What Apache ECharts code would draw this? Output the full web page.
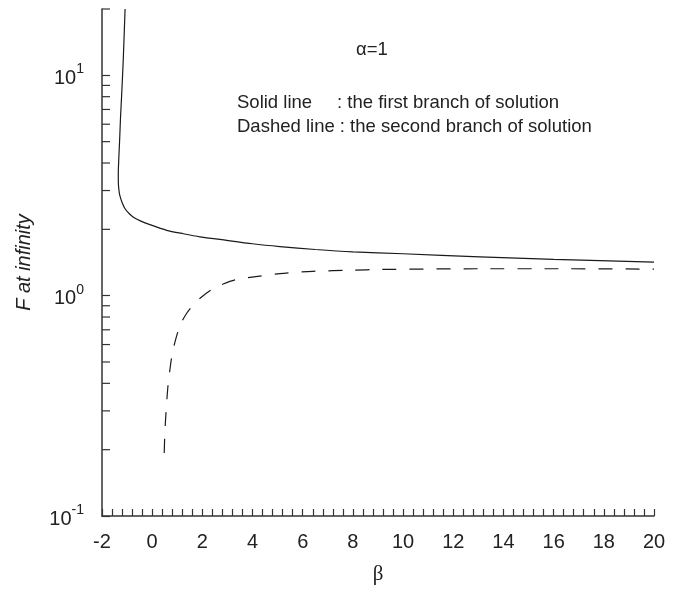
<!DOCTYPE html>
<html>
<head>
<meta charset="utf-8">
<script src="https://cdn.jsdelivr.net/npm/echarts@6/dist/echarts.min.js"></script>
<style>html,body{margin:0;padding:0;background:#fff;}#main{width:680px;height:590px;}</style>
</head>
<body>
<div id="main"></div>
<script>
// x axis: beta ; y axis: F at infinity (log)
const xMin = -2, xMax = 20, xStep = 2;
const yMin = 0.1, yMax = 20;
const yMinorTicks = [0.2,0.3,0.4,0.5,0.6,0.7,0.8,0.9,2,3,4,5,6,7,8,9,20];

// first branch (solid line)
const firstBeta = [-1.08,-1.11,-1.15,-1.18,-1.22,-1.26,-1.30,-1.33,-1.35,-1.35,-1.33,-1.29,-1.20,-1.08,-0.92,-0.75,-0.45,-0.09,0.58,1.24,1.9,2.7,4,5.09,6.5,8,10,13.06,16,20];
const firstF    = [20,16,12,10,8,6.5,5,4.2,3.6,3.3,3.05,2.85,2.65,2.48,2.36,2.27,2.18,2.10,1.98,1.91,1.85,1.80,1.72,1.67,1.62,1.58,1.55,1.50,1.46,1.42];

// second branch (dashed line)
const secondBeta = [0.48,0.50,0.53,0.58,0.63,0.73,0.82,0.91,1.11,1.37,1.65,1.97,2.4,2.83,3.3,3.9,5.09,6.41,8,9.08,13.06,16,20];
const secondF    = [0.193,0.23,0.27,0.33,0.39,0.484,0.56,0.617,0.734,0.83,0.91,0.986,1.07,1.13,1.18,1.21,1.26,1.29,1.305,1.315,1.325,1.325,1.32];

const zip = (a, b) => a.map((v, i) => [v, b[i]]);
const axisColor = '#333';
const lineColor = '#1a1a1a';

const chart = echarts.init(document.getElementById('main'), null, {renderer: 'canvas'});
chart.setOption({
  animation: false,
  backgroundColor: '#fff',
  grid: {left: 102, right: 26, top: 9, bottom: 73, containLabel: false},
  xAxis: {
    type: 'value', min: xMin, max: xMax, interval: xStep,
    name: 'β', nameLocation: 'middle', nameGap: 48,
    nameTextStyle: {fontFamily: 'Liberation Serif', fontSize: 21, color: '#222'},
    axisLine: {show: true, onZero: false, lineStyle: {color: axisColor, width: 1.5}},
    axisTick: {show: true, inside: true, length: 7, lineStyle: {color: axisColor, width: 1.2}},
    minorTick: {show: true, splitNumber: 5, length: 7, lineStyle: {color: axisColor, width: 1.2}},
    axisLabel: {fontFamily: 'Liberation Sans', fontSize: 20, color: '#222', margin: 16},
    splitLine: {show: false}
  },
  yAxis: {
    type: 'log', logBase: 10, min: yMin, max: yMax, splitNumber: 3,
    name: 'F at infinity', nameLocation: 'middle', nameGap: 68,
    nameTextStyle: {fontFamily: 'Liberation Sans', fontStyle: 'italic', fontSize: 20, color: '#222'},
    axisLine: {show: true, onZero: false, lineStyle: {color: axisColor, width: 1.5}},
    axisTick: {show: true, inside: true, length: 8, lineStyle: {color: axisColor, width: 1.2}},
    axisLabel: {
      showMaxLabel: false, margin: 18,
      formatter: function (v) {
        const e = Math.round(Math.log10(v));
        if (Math.abs(v - Math.pow(10, e)) > 1e-9 * Math.max(1, v)) return '';
        return '{b|10}{s|' + e + '}';
      },
      rich: {
        b: {fontFamily: 'Liberation Sans', fontSize: 20, color: '#222', verticalAlign: 'bottom', lineHeight: 26, padding: [8, 0, 0, 0]},
        s: {fontFamily: 'Liberation Sans', fontSize: 14, color: '#222', verticalAlign: 'top', lineHeight: 26}
      }
    },
    splitLine: {show: false}
  },
  series: [
    {
      type: 'line', data: zip(firstBeta, firstF), showSymbol: false, smooth: 0.25,
      lineStyle: {color: lineColor, width: 1.2}, z: 3
    },
    {
      type: 'line', data: zip(secondBeta, secondF), showSymbol: false, smooth: 0.25,
      lineStyle: {color: lineColor, width: 1.2, type: [14, 13]}, z: 3
    },
    {
      type: 'custom', clip: false, silent: true, z: 4,
      data: yMinorTicks.map(v => [xMin, v]),
      encode: {x: 0, y: 1},
      renderItem: function (params, api) {
        const p = api.coord([api.value(0), api.value(1)]);
        return {
          type: 'line',
          shape: {x1: p[0], y1: p[1], x2: p[0] + 8, y2: p[1]},
          style: {stroke: axisColor, lineWidth: 1.2}
        };
      }
    }
  ],
  graphic: [
    {type: 'text', left: 356, top: 40, style: {text: 'α=1', font: '18.5px "Liberation Sans"', fill: '#222'}},
    {type: 'text', left: 237, top: 93, style: {text: 'Solid line', font: '18.5px "Liberation Sans"', fill: '#222'}},
    {type: 'text', left: 337, top: 93, style: {text: ': the first branch of solution', font: '18.5px "Liberation Sans"', fill: '#222'}},
    {type: 'text', left: 237, top: 117, style: {text: 'Dashed line : the second branch of solution', font: '18.5px "Liberation Sans"', fill: '#222'}}
  ]
});
</script>
</body>
</html>
